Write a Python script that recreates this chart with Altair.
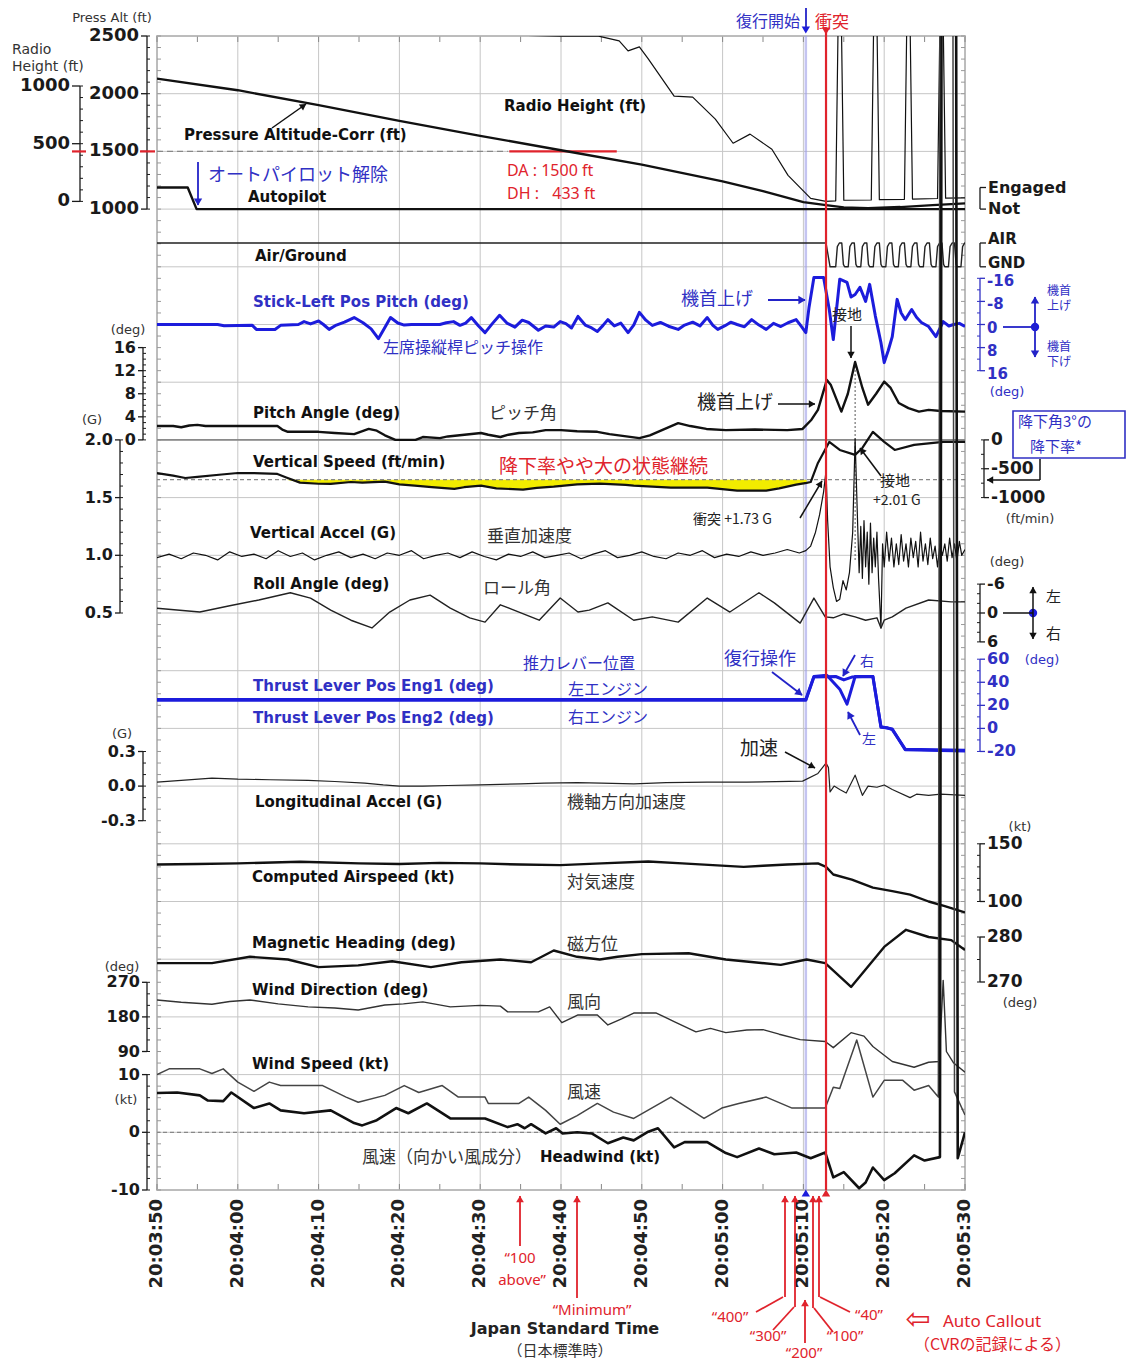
import math
import altair as alt
import pandas as pd

# ---------------- data: (seconds after 20:03:50 JST, value) ----------------
time_ticks = list(range(0, 101, 10))
time_labels = ["20:03:50", "20:04:00", "20:04:10", "20:04:20", "20:04:30", "20:04:40",
               "20:04:50", "20:05:00", "20:05:10", "20:05:20", "20:05:30"]
time_minor = list(range(0, 101, 5))

press_alt = [(0,2130),(10,2030),(20,1900),(30,1765),(40,1635),(50,1510),(60,1385),(70,1240),(75,1155),
             (80,1060),(82.8,1035),(85,1015),(88,1008),(92,1018),(96,1035),(100,1050)]
radio_ht = [(40,1520),(44,1470),(45,1440),(49.9,1432),(54.5,1435),(57.2,1391),(58.3,1304),(59.7,1339),(60.8,1235),
            (64.0,913),(66.3,904),(69.1,713),(71.3,504),(73.4,583),(76.1,452),(78.1,226),(80.9,26),(82.8,0),
            (84.0,5),(84.5,2600),(85.0,10),(88.4,12),(88.9,2600),(89.4,15),(92.5,18),(93.0,2600),(93.5,20),
            (96.6,25),(97.1,2600),(97.6,28),(100,30)]
autopilot = [(0,1),(3.8,1),(4.9,0),(100,0)]
air_ground = [(0,1),(82.8,1),(83.3,0),
              (84.0,0),(84.2,0.85),(84.45,1),(84.75,1),(84.95,0.1),(85.1,0),
              (85.55,0),(85.75,0.85),(86.0,1),(86.3,1),(86.5,0.1),(86.65,0),
              (87.1,0),(87.3,0.85),(87.55,1),(87.85,1),(88.05,0.1),(88.2,0),
              (88.65,0),(88.85,0.85),(89.1,1),(89.4,1),(89.6,0.1),(89.75,0),
              (90.2,0),(90.4,0.85),(90.65,1),(90.95,1),(91.15,0.1),(91.3,0),
              (91.75,0),(91.95,0.85),(92.2,1),(92.5,1),(92.7,0.1),(92.85,0),
              (93.3,0),(93.5,0.85),(93.75,1),(94.05,1),(94.25,0.1),(94.4,0),
              (94.85,0),(95.05,0.85),(95.3,1),(95.6,1),(95.8,0.1),(95.95,0),
              (96.4,0),(96.6,0.85),(96.85,1),(97.15,1),(97.35,0.1),(97.5,0),
              (97.95,0),(98.15,0.85),(98.4,1),(98.7,1),(98.9,0.1),(99.05,0),
              (99.5,0),(99.7,0.85),(99.95,1),(100,1)]
stick_pitch = [(0,0),(7.5,0),(8.3,0.4),(11.8,0.3),(12.3,1.7),(14.6,1.7),(15.3,0.3),(17.5,0),(18.2,-1.0),(19.0,-0.2),
               (20.0,-1.2),(20.6,0),(21.3,1.7),(22.2,0.2),(23.2,-0.8),(24.4,-2.4),(25.5,-0.6),(26.5,1.5),(27.4,4.9),
               (28.2,1.0),(28.9,-2.4),(29.8,-0.5),(30.6,0.2),(31.5,0),(35.0,0),(35.8,-0.6),(36.7,-1.0),(37.5,0.3),
               (38.2,-0.5),(38.9,-2.4),(39.8,0.5),(40.6,2.8),(41.5,-0.3),(42.4,-3.2),(43.3,-0.5),(44.3,0.9),
               (45.2,-1.5),(46.0,-0.7),(47.2,2.0),(48.1,0.5),(49.1,0.9),(49.9,-1.0),(50.6,-0.3),(51.3,1.2),
               (52.1,-2.8),(53.0,0.2),(53.8,1.2),(54.5,2.4),(55.2,0.3),(55.8,-1.7),(56.6,0.5),(57.4,-0.5),
               (58.3,2.8),(59.0,0.2),(59.7,-4.2),(60.5,-1.5),(61.3,0.3),(62.3,-0.7),(63.3,0.6),(64.5,1.7),
               (65.3,0.2),(66.3,-0.8),(67.2,0.5),(68.1,-2.4),(68.8,0.3),(69.4,1.7),(70.3,0.4),(71.0,-0.8),
               (71.8,0),(72.7,0.8),(73.6,-1.7),(74.5,0.2),(75.4,1.7),(76.3,-0.4),(77.2,0.7),(78.1,-0.6),
               (79.1,-1.7),(79.7,0.5),(80.3,2.8),(80.7,-6.0),(81.3,-16.3),(82.5,-16.3),(83.2,-5.2),(83.7,5.2),
               (84.5,-15.7),(85.4,-14.6),(85.9,-9.5),(86.4,-10.4),(87.0,-12.9),(87.7,-8.0),(88.2,-13.9),
               (88.9,-3.0),(89.6,6.3),(90.0,13.2),(90.5,9.0),(91.0,4.2),(91.6,-8.7),(92.1,-4.0),(92.6,-1.7),
               (93.4,-5.2),(94.0,-2.5),(94.6,-0.7),(95.5,0.7),(96.4,4.2),(97.3,-1.0),(98.0,0.5),(98.6,0),
               (99.3,-0.4),(100,0.7)]
pitch_angle = [(0,2.4),(2,2.4),(3,2.2),(4,2.5),(5,2.6),(6,2.4),(14.9,2.4),(15.5,1.8),(16.2,1.4),(20,1.4),(22,1.2),
               (24.4,1.0),(25,1.3),(26.2,1.9),(27.2,1.6),(28.2,0.8),(29.5,0),(32,0),(32.9,0.5),(35,0.3),(36,0.6),
               (40.1,1.2),(41,0.9),(42.5,0.5),(43.5,0.9),(44.8,1.2),(46.5,1.3),(48.1,1.7),(50,1.7),(52,1.5),
               (54.5,1.4),(56,1.0),(59.7,0.3),(61,0.8),(63,2.0),(64.5,2.9),(66,2.4),(68,1.9),(70.4,1.7),(74,1.8),
               (78,1.7),(79.9,1.9),(81,3.5),(81.8,5.2),(82.9,10.4),(83.4,9.5),(84.7,4.9),(85.5,8),(86.4,13.5),
               (87.3,9),(88,6.1),(89,8),(90,10.1),(90.8,9),(91.8,6.4),(93,5.5),(94.3,4.9),(95.5,5.2),(97,5.0),(100,4.9)]
vert_speed = [(0,-574),(2,-620),(3.5,-660),(5,-640),(8,-600),(10,-574),(12,-575),(14.9,-590),(16,-650),(17.7,-740),
              (20,-760),(21.5,-762),(24,-730),(25.4,-740),(28.2,-723),(30,-770),(31.9,-793),(34,-820),(36.8,-850),
              (38,-820),(40.1,-793),(42,-840),(45.3,-862),(47,-830),(49.1,-810),(52,-770),(54.8,-758),(58,-780),
              (59,-793),(63.6,-827),(68.1,-827),(71.8,-880),(75.4,-880),(77,-840),(79.1,-775),(80.4,-745),
              (80.9,-730),(81.8,-400),(83.2,-35),(84.5,-174),(86.4,-260),(87.3,-139),(88.6,139),(90,-35),
              (91.3,-174),(93.7,-87),(97.3,-35),(100,-35)]
glide_3deg_vs = -690
vert_accel = [(0,0.98),(1.5,1.01),(3,0.97),(4.5,1.02),(6,1.00),(7.5,0.96),(9,1.03),(10.5,0.99),(12,1.01),(13.5,0.97),
              (15,1.04),(16.5,0.99),(18,1.02),(19.5,0.96),(21,1.00),(22.5,1.03),(24,0.98),(25.5,1.01),(27,0.97),
              (28.5,1.02),(30,1.00),(31.5,1.04),(33,0.97),(34.5,1.00),(36,1.02),(37.5,0.98),(39,1.03),(40.5,0.99),
              (42,0.96),(43.5,1.01),(45,0.99),(46.5,1.03),(48,0.98),(49.5,1.00),(51,1.02),(52.5,0.97),(54,1.01),
              (55.5,1.04),(57,0.98),(58.5,1.00),(60,1.03),(61.5,0.99),(63,0.97),(64.5,1.02),(66,1.00),(67.5,1.04),
              (69,0.98),(70.5,1.01),(72,0.99),(73.5,1.03),(75,1.00),(76.5,1.02),(78,1.05),(79.5,1.02),(80.3,1.04),
              (80.9,1.08),(81.5,1.2),(82.0,1.35),(82.5,1.55),(82.8,1.73),(83.0,1.3),(83.3,0.9),(83.7,0.72),
              (84.1,0.6),(84.5,0.62),(84.9,0.78),(85.3,0.7),(85.7,0.85),(86.1,1.2),(86.4,2.01),(86.7,1.3),
              (86.9,0.85),(87.1,1.25),(87.3,0.8),(87.5,1.3),(87.7,0.9),(87.9,1.2),(88.1,0.75),(88.3,1.28),
              (88.5,0.85),(88.7,1.15),(88.9,0.9),(89.1,1.2),(89.3,0.8),(89.6,0.37),(89.8,1.1),(90.0,0.9),
              (90.3,1.2),(90.6,0.95),(90.9,1.15),(91.2,0.9),(91.5,1.1),(91.8,0.92),(92.1,1.18),(92.4,0.95),
              (92.7,1.1),(93.0,0.9),(93.3,1.15),(93.6,0.98),(93.9,1.12),(94.2,0.9),(94.5,1.2),(94.8,0.95),
              (95.1,1.1),(95.4,0.92),(95.7,1.15),(96.0,0.97),(96.3,1.08),(96.6,0.9),(96.9,1.1),(97.2,1.0),
              (97.5,1.1),(97.8,0.95),(98.1,1.15),(98.4,0.98),(98.7,1.1),(99.0,0.95),(99.3,1.12),(99.6,1.0),(100,1.05)]
roll_angle = [(0,-1),(5.3,-0.2),(9,-1.5),(12.6,-2.7),(16.5,-4.2),(19,-3.1),(21.5,-0.6),(24,1.5),(26.6,3.1),
              (28.8,-0.2),(31.3,-2.7),(33.8,-3.7),(36.3,-1),(38.7,1.0),(40.6,1.9),(42.5,-1.7),(44.8,-0.2),
              (47.3,1.5),(49.9,-3.1),(52.1,-0.2),(53.5,-0.6),(55.8,-2.1),(59,1.5),(61.3,0.8),(64.5,1.9),
              (68.1,-3.1),(70.9,-0.2),(74.5,-4.2),(76.4,-2.1),(79.6,2.1),(81.3,-3.1),(82.7,0.8),(83.7,1.0),
              (85,0.2),(86.4,0.8),(87.7,1.5),(89.1,1.0),(89.6,3.1),(90,1.5),(91,0.8),(92.7,-1),(95.5,-2.7),
              (98.3,-2.3),(100,-2.3)]
thrust_eng1 = [(0,25),(80.3,25),(81.3,45),(82.9,46),(84.5,34),(85.4,21),(86.4,45),(88.6,45),(89.6,1),(90.4,0.5),
               (91.0,-1),(92.6,-18),(100,-19)]
thrust_eng2 = [(0,24.5),(80.3,24.5),(81.3,44.5),(84.0,45),(85.0,42),(86.0,44.5),(88.6,45),(89.6,1.5),(91.0,-0.5),
               (92.6,-18.5),(100,-19.5)]
long_accel = [(0,0.035),(3,0.05),(6.8,0.07),(10,0.06),(14,0.055),(18.7,0.05),(22,0.04),(25.7,0.026),(28,0.01),
              (30,0.0),(32.9,0.0),(36,0.005),(40,0.01),(45,0.02),(47.9,0.026),(52,0.03),(55,0.026),(59,0.02),
              (63,0.03),(68.1,0.035),(73,0.035),(79.9,0.043),(81.8,0.11),(82.8,0.2),(83.1,0.16),(83.3,-0.05),
              (83.8,0.0),(84.5,-0.03),(85.3,-0.06),(86.4,0.095),(87.3,-0.08),(88,0.0),(89.1,-0.01),(90,0.01),
              (91,-0.03),(93.2,-0.1),(94,-0.07),(95.5,-0.08),(97,-0.07),(100,-0.08)]
airspeed = [(0,132),(5,132.5),(10,133),(17.7,134.5),(20,134),(25,133),(30,132.5),(35,133.5),(40,133),(45,132),
            (49.9,131.5),(55,133),(60.8,134.7),(65,133),(72.6,130),(75,131),(78,132),(81.8,133),(82.8,130),
            (83.7,123.4),(86,119),(88.6,112),(91,109),(93.2,106),(95.5,100),(97.5,96),(100,90.5)]
mag_heading = [(0,274.2),(6.8,274.2),(11.5,275.6),(16.2,275),(20,273.3),(24.9,273.7),(29.1,274.6),(33.9,273.3),
               (37.7,274.4),(42.5,275),(46.3,274.4),(49.1,277),(52,275.6),(54.8,275),(57,275.6),(60,276.2),
               (65.8,276.4),(70.4,275),(77.2,273.8),(80.4,275),(82.7,274.2),(85.9,268.9),(90,277.8),(92.7,281.6),
               (95.5,280),(98.3,279.3),(100,277.1)]
wind_dir = [(0,224),(3,218),(6.8,213),(9,220),(11.5,224),(15,214),(18.7,206),(22,203),(24.9,198),(28.2,211),
            (30.5,214),(32.9,219),(36.3,206),(40,210),(42.5,208),(43.4,193),(47.2,193),(48.6,206),(50.1,165),
            (52.1,185),(54.5,185),(55.8,159),(57.5,175),(59,190),(61.8,190),(64,168),(66.7,141),(68.5,150),
            (70.4,139),(73,146),(75,147),(77,135),(79.6,121),(82.7,116),(83.7,100),(85.9,139),(87.5,130),
            (88.6,103),(91,64),(93.7,49),(95.5,62),(96.8,64),(97.3,275),(97.7,90),(98.6,60),(100,36)]
wind_speed = [(0,10),(1.5,11),(5.3,11),(6.8,10.2),(8.2,11),(10,8.7),(12,7.1),(13.9,8.7),(15.3,8.1),(20.5,8.1),
              (23.4,6.1),(24.9,5.2),(28.2,6.4),(30.6,8.1),(32.4,6.9),(35.3,8.1),(37.3,6.1),(40.6,6.1),(41,5.0),
              (44.8,5.0),(46,6.1),(48.1,3.8),(49.9,1.4),(52,2.9),(54.5,5.0),(56.5,3.5),(59,2.4),(63.6,6.1),
              (67.7,2.4),(69.9,4.2),(72,5),(75.4,6.1),(78.6,4.2),(82.7,4.2),(83.7,7.8),(84.5,7.6),(86.6,16),
              (88.6,6.1),(90,9),(92.3,9),(93.7,7.3),(95.5,8.1),(96.7,6.1),(97.0,300),(98.4,300),(98.7,7),(100,3)]
headwind = [(0,6.8),(2.5,6.9),(5.3,6.4),(6.3,5.5),(8.2,5.4),(9.2,6.9),(12,4.2),(13.9,5.0),(15.3,3.8),(18.2,3.3),
            (21.5,3.8),(24.4,1.6),(25.4,1.2),(27.2,2.1),(29.6,4.2),(31.1,3.3),(33.4,5.0),(36.3,2.4),(40.6,2.4),
            (43.4,0.9),(44.6,1.4),(45.5,0.7),(46.3,1.4),(48.1,-0.2),(49.4,0.7),(50.2,-0.2),(52,0),(53.8,-0.2),
            (55.8,-1.9),(57.7,-0.9),(59,-1.4),(60.8,0.1),(62,0.7),(64,-2.6),(65.3,-1.7),(68.1,-1.7),(70.4,-3.6),
            (71.8,-4.3),(74.5,-2.8),(76.4,-3.8),(79.1,-3.5),(80.9,-4.5),(82.7,-3.5),(83.7,-7.8),(85,-6.9),
            (86.9,-9.7),(87.7,-8.7),(88.6,-6.1),(90,-8.3),(91.3,-7.1),(93.7,-4),(95,-4.9),(96.9,-4.3),
            (97.2,300),(98.8,300),(99.1,-4.5),(100,0)]

# axis ticks / labels of each parameter
pa_ticks, pa_labels = [1000, 1500, 2000, 2500], ["1000", "1500", "2000", "2500"]
ra_ticks, ra_labels = [0, 500, 1000], ["0", "500", "1000"]
ap_ticks, ap_labels = [0, 1], ["Not", "Engaged"]
ag_ticks, ag_labels = [0, 1], ["GND", "AIR"]
st_ticks, st_labels = [-16, -8, 0, 8, 16], ["-16", "-8", "0", "8", "16"]
pt_ticks, pt_labels = [0, 4, 8, 12, 16], ["0", "4", "8", "12", "16"]
vs_ticks, vs_labels = [0, -500, -1000], ["0", "-500", "-1000"]
va_ticks, va_labels = [0.5, 1.0, 1.5, 2.0], ["0.5", "1.0", "1.5", "2.0"]
ro_ticks, ro_labels = [-6, 0, 6], ["-6", "0", "6"]
th_ticks, th_labels = [60, 40, 20, 0, -20], ["60", "40", "20", "0", "-20"]
la_ticks, la_labels = [0.3, 0.0, -0.3], ["0.3", "0.0", "-0.3"]
ca_ticks, ca_labels = [100, 150], ["100", "150"]
hd_ticks, hd_labels = [270, 280], ["270", "280"]
wd_ticks, wd_labels = [90, 180, 270], ["90", "180", "270"]
ws_ticks, ws_labels = [-10, 0, 10], ["-10", "0", "10"]

t_go_around = 80.3
t_impact = 82.8
t_touchdown = 86.4
da_segment = (43.6, 56.9)

# ---------------- layout ----------------
W, H = 808, 1154
PX0, PY0 = 157, 36
INK = '#111111'
BLUE = '#1c1cdc'
BLUE_T = '#3030c4'
RED = '#e0232c'
GRID = '#c6c6c6'
SANS = 'DejaVu Sans'
JP = 'Noto Sans CJK JP'
NOTO = 'Noto Sans'

XS = alt.Scale(domain=[0, 100], nice=False, zero=False)


def cal(v1, y1, v2, y2):
    b = (y2 - y1) / (v2 - v1)
    return alt.Scale(domain=[v1 + (PY0 + H - y1) / b, v1 + (PY0 - y1) / b], nice=False, zero=False)


S_PA = cal(1000, 209.1, 2500, 36)
S_RA = cal(0, 201.4, 1000, 86)
S_AP = cal(0, 209.1, 1, 187.5)
S_AG = cal(0, 266.8, 1, 243)
S_ST = cal(0, 324.5, 16, 370.7)
S_PT = cal(0, 439.9, 16, 347.6)
S_VS = cal(0, 439.9, -1000, 497.6)
S_VA = cal(2.0, 439.9, 0.5, 613)
S_RO = cal(0, 613, 6, 641.9)
S_TH = cal(0, 728.4, 60, 659.2)
S_LA = cal(0, 786.1, 0.3, 751.5)
S_CA = cal(100, 901.5, 150, 843.8)
S_HD = cal(270, 982, 280, 937)
S_WD = cal(180, 1016.9, 270, 982.3)
S_WS = cal(0, 1132.3, 10, 1074.6)


def sdf(pairs):
    return pd.DataFrame(pairs, columns=['t', 'v'])


def trace(pairs, ysc, color=INK, w=1.5, op=1.0):
    return alt.Chart(sdf(pairs)).mark_line(color=color, strokeWidth=w, clip=True, strokeJoin='round',
                                           opacity=op).encode(
        x=alt.X('t:Q', scale=XS, axis=None), y=alt.Y('v:Q', scale=ysc, axis=None))


def yaxis(ysc, vals, labels, side, off, lo, hi, minor=(), color='#1a1a1a', fs=16, tick=5, dy=0):
    left = side == 'left'
    xpos = -off if left else W + off
    xt = xpos - tick if left else xpos + tick
    xl = xt - 2 if left else xt + 2
    out = [alt.Chart(pd.DataFrame({'a': [lo], 'b': [hi]})).mark_rule(color=color, strokeWidth=1.3).encode(
        x=alt.value(xpos), y=alt.Y('a:Q', scale=ysc, axis=None), y2='b:Q')]
    d = pd.DataFrame({'v': vals, 'lab': labels})
    out.append(alt.Chart(d).mark_rule(color=color, strokeWidth=1.3).encode(
        x=alt.value(xpos), x2=alt.value(xt), y=alt.Y('v:Q', scale=ysc, axis=None)))
    out.append(alt.Chart(d).mark_text(font=SANS, fontWeight='bold', fontSize=fs, color=color, dy=dy,
                                      align='right' if left else 'left', baseline='middle').encode(
        x=alt.value(xl), y=alt.Y('v:Q', scale=ysc, axis=None), text='lab:N'))
    if len(minor):
        x2 = xpos + 3 if left else xpos - 3
        out.append(alt.Chart(pd.DataFrame({'m': list(minor)})).mark_rule(color=color, strokeWidth=1).encode(
            x=alt.value(xpos), x2=alt.value(x2), y=alt.Y('m:Q', scale=ysc, axis=None)))
    return out


def steps(a, b, s):
    n = int(round((b - a) / s))
    return [round(a + i * s, 4) for i in range(n + 1)]


def pix(rows, cols):
    d = pd.DataFrame(rows, columns=cols)
    for c in cols:
        if c.startswith('X'):
            d['p' + c] = d[c] - PX0
        elif c.startswith('Y'):
            d['p' + c] = d[c] - PY0
    return d


def texts(rows, font=SANS, size=15, color=INK, align='left', weight='normal'):
    d = pix(rows, ['X', 'Y', 's'])
    return alt.Chart(d).mark_text(font=font, fontSize=size, color=color, align=align, baseline='middle',
                                  fontWeight=weight).encode(
        x=alt.X('pX:Q', scale=None), y=alt.Y('pY:Q', scale=None), text='s:N')


def arrows(segs, color, w=1.6, hs=55):
    d = pix(segs, ['X1', 'Y1', 'X2', 'Y2', 'h'])
    out = [alt.Chart(d).mark_rule(color=color, strokeWidth=w).encode(
        x=alt.X('pX1:Q', scale=None), y=alt.Y('pY1:Q', scale=None), x2='pX2:Q', y2='pY2:Q')]
    hd = d[d['h'] == 1].copy()
    if len(hd):
        dx = hd['pX2'] - hd['pX1']
        dy = hd['pY2'] - hd['pY1']
        ln = (dx ** 2 + dy ** 2) ** 0.5
        hd['hx'] = hd['pX2'] - 3 * dx / ln
        hd['hy'] = hd['pY2'] - 3 * dy / ln
        hd['ang'] = [math.degrees(math.atan2(a, -b)) % 360 for a, b in zip(dx, dy)]
        out.append(alt.Chart(hd).mark_point(shape='triangle-up', filled=True, color=color, size=hs,
                                            opacity=1).encode(
            x=alt.X('hx:Q', scale=None), y=alt.Y('hy:Q', scale=None), angle=alt.Angle('ang:Q', scale=None)))
    return out


# ---------------- frame ----------------
vgrid = alt.Chart(pd.DataFrame({'t': time_ticks})).mark_rule(color=GRID, strokeWidth=1).encode(
    x=alt.X('t:Q', scale=XS, axis=None))
xlabels = alt.Chart(pd.DataFrame({'t': time_ticks, 'lab': time_labels})).mark_text(
    font=SANS, fontWeight='bold', fontSize=18, color='#222', angle=270, align='right', baseline='middle').encode(
    x=alt.X('t:Q', scale=XS, axis=None), y=alt.value(H + 9), text='lab:N')
tdf = pd.DataFrame({'t': time_minor})
bottom_ticks = alt.Chart(tdf).mark_rule(color='#888', strokeWidth=1).encode(
    x=alt.X('t:Q', scale=XS, axis=None), y=alt.value(H - 6), y2=alt.value(H))
top_ticks = alt.Chart(tdf).mark_rule(color='#888', strokeWidth=1).encode(
    x=alt.X('t:Q', scale=XS, axis=None), y=alt.value(0), y2=alt.value(6))
hgrid = alt.Chart(pd.DataFrame({'py': [k * H / 20 for k in range(21)]})).mark_rule(
    color=GRID, strokeWidth=1).encode(y=alt.Y('py:Q', scale=None))
edf = pd.DataFrame({'py': [k * H / 100 for k in range(101)]})
edge_l = alt.Chart(edf).mark_rule(color='#999', strokeWidth=1).encode(
    y=alt.Y('py:Q', scale=None), x=alt.value(0), x2=alt.value(4))
edge_r = alt.Chart(edf).mark_rule(color='#999', strokeWidth=1).encode(
    y=alt.Y('py:Q', scale=None), x=alt.value(W - 4), x2=alt.value(W))
sep = alt.Chart(pd.DataFrame({'py': [7 * H / 20]})).mark_rule(color='#8a8a8a', strokeWidth=1.6).encode(
    y=alt.Y('py:Q', scale=None))

blue_ev = alt.Chart(pd.DataFrame({'t': [t_go_around]})).mark_rule(color='#9c9ce8', strokeWidth=2.5,
                                                                   opacity=0.6).encode(
    x=alt.X('t:Q', scale=XS, axis=None))
red_ev = alt.Chart(pd.DataFrame({'t': [t_impact]})).mark_rule(color=RED, strokeWidth=2.2).encode(
    x=alt.X('t:Q', scale=XS, axis=None), y=alt.value(-6), y2=alt.value(H))
td_line = alt.Chart(pd.DataFrame({'t': [t_touchdown]})).mark_rule(color='#555', strokeWidth=1,
                                                                  strokeDash=[2, 2]).encode(
    x=alt.X('t:Q', scale=XS, axis=None), y=alt.value(362 - PY0), y2=alt.value(560 - PY0))

# ---------------- series groups ----------------
g_pa = alt.layer(
    *yaxis(S_PA, pa_ticks, pa_labels, 'left', 10, 1000, 2500, steps(1000, 2500, 100), fs=18, tick=6),
    alt.Chart(pd.DataFrame({'a': [0], 'b': [da_segment[0] - 0.2], 'v': [1500]})).mark_rule(
        color='#888', strokeDash=[6, 4], strokeWidth=1.3).encode(
        x=alt.X('a:Q', scale=XS, axis=None), x2='b:Q', y=alt.Y('v:Q', scale=S_PA, axis=None)),
    alt.Chart(pd.DataFrame({'a': [da_segment[0]], 'b': [da_segment[1]], 'v': [1500]})).mark_rule(
        color=RED, strokeWidth=2.2).encode(
        x=alt.X('a:Q', scale=XS, axis=None), x2='b:Q', y=alt.Y('v:Q', scale=S_PA, axis=None)),
    alt.Chart(pd.DataFrame({'v': [1500]})).mark_rule(color=RED, strokeWidth=2.2).encode(
        x=alt.value(-17), x2=alt.value(-2), y=alt.Y('v:Q', scale=S_PA, axis=None)),
    trace(press_alt, S_PA, w=2.3))
g_ra = alt.layer(
    *yaxis(S_RA, ra_ticks, ra_labels, 'left', 77, 0, 1000, steps(0, 1000, 100), fs=18, tick=8),
    alt.Chart(pd.DataFrame({'v': [433]})).mark_rule(color=RED, strokeWidth=2.2).encode(
        x=alt.value(-85), x2=alt.value(-71), y=alt.Y('v:Q', scale=S_RA, axis=None)),
    trace(radio_ht, S_RA, w=1.2))
g_ap = alt.layer(*yaxis(S_AP, ap_ticks, ap_labels, 'right', 15, 0, 1, fs=16, tick=6),
                 trace(autopilot, S_AP, w=2.4))
g_ag = alt.layer(*yaxis(S_AG, ag_ticks, ag_labels, 'right', 15, 0, 1, fs=15, tick=6, dy=-4),
                 trace(air_ground, S_AG, color='#222', w=1.4))
g_st = alt.layer(*yaxis(S_ST, st_ticks, st_labels, 'right', 15, -16, 16, steps(-16, 16, 4), color=BLUE_T,
                        fs=15, dy=3),
                 trace(stick_pitch, S_ST, color=BLUE, w=3))
g_pt = alt.layer(*yaxis(S_PT, pt_ticks, pt_labels, 'left', 14, 0, 16, steps(0, 16, 1), fs=16),
                 trace(pitch_angle, S_PT, w=2.4))
vs_df = sdf(vert_speed)
g_vs = alt.layer(
    *yaxis(S_VS, vs_ticks, vs_labels, 'right', 19, -1000, 0, steps(-1000, 0, 250), fs=17),
    alt.Chart(vs_df).transform_filter('datum.t >= 15 && datum.t <= 80.5').transform_calculate(
        lo='min(datum.v, %d)' % glide_3deg_vs, base=str(glide_3deg_vs)).mark_area(
        color='#f2ec00', opacity=1, clip=True).encode(
        x=alt.X('t:Q', scale=XS, axis=None), y=alt.Y('lo:Q', scale=S_VS, axis=None), y2='base:Q'),
    alt.Chart(pd.DataFrame({'v': [glide_3deg_vs]})).mark_rule(color='#888', strokeDash=[4, 3],
                                                              strokeWidth=1.2).encode(
        y=alt.Y('v:Q', scale=S_VS, axis=None)),
    trace(vert_speed, S_VS, w=2.2))
g_va = alt.layer(*yaxis(S_VA, va_ticks, va_labels, 'left', 37, 0.5, 2.0, steps(0.5, 2.0, 0.1), fs=16),
                 trace(vert_accel, S_VA, w=1.2))
g_ro = alt.layer(*yaxis(S_RO, ro_ticks, ro_labels, 'right', 15, -6, 6, steps(-6, 6, 2), fs=16),
                 trace(roll_angle, S_RO, color='#222', w=1.4))
g_th = alt.layer(*yaxis(S_TH, th_ticks, th_labels, 'right', 15, -20, 60, steps(-20, 60, 10), color=BLUE_T, fs=16),
                 trace(thrust_eng2, S_TH, color=BLUE, w=3),
                 trace(thrust_eng1, S_TH, color=BLUE, w=3))
g_la = alt.layer(*yaxis(S_LA, la_ticks, la_labels, 'left', 14, -0.3, 0.3, steps(-0.3, 0.3, 0.1), fs=16),
                 trace(long_accel, S_LA, color='#222', w=1.2))
g_ca = alt.layer(*yaxis(S_CA, ca_ticks, ca_labels, 'right', 15, 100, 150, steps(100, 150, 10), fs=17),
                 trace(airspeed, S_CA, w=2.4))
g_hd = alt.layer(*yaxis(S_HD, hd_ticks, hd_labels, 'right', 15, 270, 280, steps(270, 280, 5), fs=17),
                 trace(mag_heading, S_HD, w=2.4))
g_wd = alt.layer(*yaxis(S_WD, wd_ticks, wd_labels, 'left', 10, 90, 270, steps(90, 270, 30), fs=16),
                 trace(wind_dir, S_WD, color='#333', w=1.4))
g_ws = alt.layer(*yaxis(S_WS, ws_ticks, ws_labels, 'left', 10, -10, 10, steps(-10, 10, 2), fs=16),
                 alt.Chart(pd.DataFrame({'v': [0]})).mark_rule(color='#888', strokeDash=[4, 3],
                                                               strokeWidth=1.2).encode(
                     y=alt.Y('v:Q', scale=S_WS, axis=None)),
                 trace(wind_speed, S_WS, color='#444', w=1.5),
                 trace(headwind, S_WS, w=2.6))

# ---------------- annotations ----------------
ev_marks = alt.Chart(pd.DataFrame({'t': [t_go_around, t_impact, t_go_around, t_impact],
                                   'Y': [1193, 1193, 30, 31], 'c': ['b', 'r', 'b', 'r'],
                                   'sh': ['triangle-up', 'triangle-up', 'triangle-down', 'triangle-down']})
                     .assign(pY=lambda d: d['Y'] - PY0)).mark_point(filled=True, size=70, opacity=1).encode(
    x=alt.X('t:Q', scale=XS, axis=None), y=alt.Y('pY:Q', scale=None),
    color=alt.Color('c:N', scale=alt.Scale(domain=['b', 'r'], range=['#1c1cdc', RED]), legend=None),
    shape=alt.Shape('sh:N', scale=None))

box = alt.Chart(pix([(1013, 411, 1125, 458)], ['X1', 'Y1', 'X2', 'Y2'])).mark_rect(
    fill='white', stroke=BLUE_T, strokeWidth=1.6).encode(
    x=alt.X('pX1:Q', scale=None), x2='pX2:Q', y=alt.Y('pY1:Q', scale=None), y2='pY2:Q')

dots = alt.Chart(pix([(1033, 613, 'k'), (1035, 327, 'b')], ['X', 'Y', 'c'])).mark_point(
    filled=True, size=70, opacity=1, shape='circle').encode(
    x=alt.X('pX:Q', scale=None), y=alt.Y('pY:Q', scale=None),
    color=alt.Color('c:N', scale=alt.Scale(domain=['k', 'b'], range=[INK, BLUE_T]), legend=None))

lbl_black = [(184, 135, "Pressure Altitude-Corr (ft)"), (504, 106, "Radio Height (ft)"), (248, 197, "Autopilot"),
             (255, 256, "Air/Ground"), (253, 413, "Pitch Angle (deg)"), (253, 462, "Vertical Speed (ft/min)"),
             (250, 533, "Vertical Accel (G)"), (253, 584, "Roll Angle (deg)"), (255, 802, "Longitudinal Accel (G)"),
             (252, 877, "Computed Airspeed (kt)"), (252, 943, "Magnetic Heading (deg)"),
             (252, 990, "Wind Direction (deg)"), (252, 1064, "Wind Speed (kt)"), (540, 1157, "Headwind (kt)")]
lbl_blue = [(253, 302, "Stick-Left Pos Pitch (deg)"), (253, 686, "Thrust Lever Pos Eng1 (deg)"),
            (253, 718, "Thrust Lever Pos Eng2 (deg)")]
jp_dark = [(489, 414, "ピッチ角"), (487, 537, "垂直加速度"), (483, 589, "ロール角"), (567, 803, "機軸方向加速度"),
           (567, 883, "対気速度"), (567, 945, "磁方位"), (567, 1003, "風向"), (567, 1093, "風速"),
           (362, 1158, "風速（向かい風成分）")]
jp_big = [(697, 403, "機首上げ"), (740, 749, "加速")]
jp_small = [(832, 315, "接地"), (880, 481, "接地"), (1046, 597, "左"), (1046, 634, "右")]
jp_note = [(693, 520, "衝突 +1.73 G"), (873, 501, "+2.01 G")]
jpb18 = [(208, 176, "オートパイロット解除"), (681, 300, "機首上げ"), (724, 660, "復行操作")]
jpb16 = [(383, 348, "左席操縦桿ピッチ操作"), (523, 664, "推力レバー位置"), (568, 690, "左エンジン"),
         (568, 718, "右エンジン")]
jpb15 = [(1018, 422, "降下角3°の"), (1030, 447, "降下率*")]
jpb14 = [(860, 662, "右"), (862, 740, "左")]
jpb12 = [(1047, 291, "機首"), (1047, 306, "上げ"), (1047, 347, "機首"), (1047, 362, "下げ")]
units = [(128, 330, "(deg)"), (92, 420, "(G)"), (122, 734, "(G)"),
         (122, 967, "(deg)"), (126, 1100, "(kt)"), (1030, 519, "(ft/min)"), (1007, 562, "(deg)"),
         (1020, 827, "(kt)"), (1020, 1003, "(deg)")]
units_blue = [(1007, 392, "(deg)"), (1042, 660, "(deg)")]
radio_lbl = [(12, 50, "Radio"), (12, 67, "Height (ft)")]
callouts = [(520, 1258, "“100"), (522, 1280, "above”"), (592, 1310, "“Minimum”"), (730, 1317, "“400”"),
            (768, 1336, "“300”"), (804, 1353, "“200”"), (845, 1336, "“100”"), (869, 1315, "“40”")]

ann = [
    texts(lbl_black, weight='bold', size=15),
    texts(lbl_blue, weight='bold', size=15, color=BLUE_T),
    texts(jp_dark, font=JP, size=17, color='#333'),
    texts(jp_big, font=JP, size=19, color='#222'),
    texts(jp_small, font=JP, size=15, color='#222'),
    texts(jp_note, font=JP, size=14, color='#222'),
    texts(jpb18, font=JP, size=18, color=BLUE_T),
    texts(jpb16, font=JP, size=16, color=BLUE_T),
    texts(jpb15, font=JP, size=15, color=BLUE_T),
    texts(jpb14, font=JP, size=14, color=BLUE_T),
    texts(jpb12, font=JP, size=12, color=BLUE_T),
    texts([(800, 22, "復行開始")], font=JP, size=16, color=BLUE_T, align='right'),
    texts([(499, 467, "降下率やや大の状態継続")], font=JP, size=19, color=RED),
    texts([(815, 23, "衝突")], font=JP, size=17, color=RED),
    texts([(507, 171, "DA : 1500 ft"), (507, 194, "DH : \u2007433 ft")], font=NOTO, size=16, color=RED),
    texts([(112, 18, "Press Alt (ft)")], size=13, color='#333', align='center'),
    texts(units, size=13, color='#333', align='center'),
    texts(units_blue, size=13, color=BLUE_T, align='center'),
    texts(radio_lbl, size=14, color='#333'),
    texts(callouts, font=NOTO, size=15, color=RED, align='center'),
    texts([(943, 1322, "Auto Callout")], font=NOTO, size=17, color=RED),
    texts([(914, 1345, "（CVRの記録による）")], font=JP, size=16, color=RED),
    texts([(918, 1320, "⇦")], size=30, color=RED, align='center'),
    texts([(565, 1329, "Japan Standard Time")], size=16, weight='bold', color='#222', align='center'),
    texts([(560, 1351, "（日本標準時）")], font=JP, size=15, color='#333', align='center'),
]

arr_black = [(272, 128, 306, 104, 1), (851, 326, 851, 358, 1), (778, 404, 815, 404, 1), (881, 476, 860, 448, 1),
             (800, 518, 822, 481, 1), (785, 752, 815, 768, 1), (1003, 613, 1033, 613, 0), (1033, 613, 1033, 587, 1),
             (1033, 613, 1033, 639, 1), (1040, 459, 1040, 480, 0), (1040, 480, 987, 480, 1)]
arr_blue = [(198, 162, 198, 205, 1), (768, 300, 805, 300, 1), (772, 672, 802, 695, 1), (855, 655, 843, 676, 1),
            (860, 735, 848, 712, 1), (806, 8, 806, 28, 0), (1003, 327, 1035, 327, 0), (1035, 327, 1035, 297, 1),
            (1035, 327, 1035, 357, 1)]
arr_red = [(520, 1246, 520, 1196, 1), (577, 1298, 577, 1196, 1), (756, 1312, 783, 1297, 0), (785, 1297, 785, 1196, 1),
           (773, 1330, 794, 1307, 0), (795, 1307, 795, 1196, 1), (805, 1343, 805, 1300, 1),
           (833, 1332, 814, 1308, 0), (813, 1308, 813, 1196, 1), (850, 1312, 820, 1297, 0),
           (819, 1297, 819, 1196, 1)]

layers = [vgrid, bottom_ticks, top_ticks, hgrid, edge_l, edge_r, sep, blue_ev, td_line,
          g_pa, g_ra, g_ap, g_ag, g_st, g_pt, g_vs, g_va, g_ro, g_th, g_la, g_ca, g_hd, g_wd, g_ws,
          red_ev, ev_marks, box, dots, xlabels]
layers += arrows(arr_black, INK, w=1.5)
layers += arrows(arr_blue, '#2323c8', w=1.8, hs=70)
layers += arrows(arr_red, RED, w=1.8, hs=60)
layers += ann

chart = alt.layer(*layers).resolve_scale(y='independent').properties(
    width=W, height=H,
    autosize=alt.AutoSizeParams(type='none'),
    padding={'left': 149, 'top': 28, 'right': 162, 'bottom': 172},
    background='white'
).configure_view(stroke='#9a9a9a', strokeWidth=1.5)

chart.save("out.html", embed_options={"renderer": "svg", "actions": False})
